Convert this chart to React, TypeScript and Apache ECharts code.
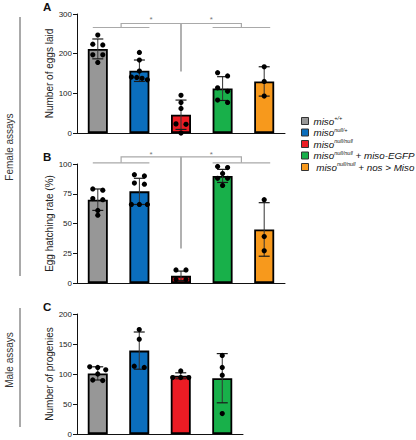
import React, { useEffect, useRef } from 'react';
import * as echarts from 'echarts';

// Genotypes: "miso" + superscript allele + optional transgene suffix
const genotypeSup = ['+/+', 'null/+', 'null/null', 'null/null', 'null/null'];
const genotypeSuffix = ['', '', '', ' + miso-EGFP', ' + nos > Miso'];
const genotypes = genotypeSup.map((s, i) => 'miso' + s + genotypeSuffix[i]);

// A: number of eggs laid (female assays)
const eggMeans = [212, 157, 46, 112, 130];
const eggSD = [25, 27, 37, 30, 37];
const eggDots = [
  [247, 224, 222, 197, 197, 178],
  [203, 184, 156, 141, 140, 138, 134],
  [95, 77, 62, 23, 22, 0],
  [152, 144, 114, 105, 83, 77],
  [167, 130, 93],
];

// B: egg hatching rate, % (female assays)
const hatchMeans = [70, 77, 6, 90, 45];
const hatchSD = [9, 11, 4, 5.5, 22.5];
const hatchDots = [
  [79, 78, 71, 70, 61, 57],
  [91, 90, 84, 83, 66, 66, 66],
  [11, 11, 3, 3],
  [98, 97, 92, 88, 88, 82],
  [70, 39, 27],
];

// C: number of progenies (male assays)
const progenyMeans = [101, 139, 97, 93];
const progenySD = [11, 31, 5, 41];
const progenyDots = [
  [112, 111, 107, 100, 90, 89],
  [174, 158, 113, 111],
  [105, 94, 94, 94],
  [131, 111, 98, 34],
];

const PALETTE = ['#979797', '#0b6ebd', '#ec1c24', '#18b04a', '#f7991c'];
const FONT = "'Liberation Sans', Arial, Helvetica, sans-serif";
const BRACKET = '#a9a9a9';

// Spread overlapping dots sideways (beeswarm-like rows)
function swarmOffsets(values: number[], pxPerUnit: number): number[] {
  const order = values.map((_, i) => i).sort((a, b) => values[b] - values[a]);
  const offsets = new Array(values.length).fill(0);
  let group: number[] = [];
  const flush = () => {
    const n = group.length;
    const step = n > 1 ? Math.min(10, 16 / (n - 1)) : 0;
    group.forEach((g, k) => (offsets[g] = (k - (n - 1) / 2) * step));
    group = [];
  };
  order.forEach((i) => {
    if (group.length && (values[group[group.length - 1]] - values[i]) * pxPerUnit >= 4) flush();
    group.push(i);
  });
  flush();
  return offsets;
}

type Panel = {
  title: string;
  yName: string;
  top: number;
  height: number;
  width: number;
  max: number;
  interval: number;
  means: number[];
  sd: number[];
  dots: number[][];
  bracket?: { low: number; high: number; drop: number; star: number };
};

const panels: Panel[] = [
  {
    title: 'A', yName: 'Number of eggs laid', top: 14, height: 119, width: 208,
    max: 300, interval: 100, means: eggMeans, sd: eggSD, dots: eggDots,
    bracket: { low: 266, high: 276, drop: 155, star: 285 },
  },
  {
    title: 'B', yName: 'Egg hatching rate (%)', top: 164, height: 119, width: 208,
    max: 100, interval: 25, means: hatchMeans, sd: hatchSD, dots: hatchDots,
    bracket: { low: 101, high: 106, drop: 29, star: 108 },
  },
  {
    title: 'C', yName: 'Number of progenies', top: 314, height: 120, width: 166,
    max: 200, interval: 50, means: progenyMeans, sd: progenySD, dots: progenyDots,
  },
];

function buildOption() {
  const grid: any[] = [];
  const xAxis: any[] = [];
  const yAxis: any[] = [];
  const series: any[] = [];
  const graphic: any[] = [];

  panels.forEach((p, pi) => {
    const n = p.means.length;
    grid.push({ left: 77, top: p.top, width: p.width, height: p.height, containLabel: false });
    xAxis.push({
      type: 'category', gridIndex: pi, data: genotypes.slice(0, n),
      axisLine: { lineStyle: { color: '#111', width: 1 } },
      axisTick: { show: false }, axisLabel: { show: false }, splitLine: { show: false },
    });
    yAxis.push({
      type: 'value', gridIndex: pi, min: 0, max: p.max, interval: p.interval,
      name: p.yName, nameLocation: 'middle', nameGap: 22, nameRotate: 90,
      nameTextStyle: { fontSize: 10, color: '#222', fontFamily: FONT },
      axisLine: { show: true, lineStyle: { color: '#111', width: 1 } },
      axisTick: { show: true, length: 4, lineStyle: { color: '#111' } },
      axisLabel: { fontSize: 8, color: '#222', margin: 5, fontFamily: FONT },
      splitLine: { show: false },
    });

    // one bar series per genotype so the legend can list them
    for (let i = 0; i < n; i++) {
      series.push({
        type: 'bar', name: genotypes[i], xAxisIndex: pi, yAxisIndex: pi,
        data: p.means.map((v, j) => (j === i ? v : '-')),
        barWidth: 20, barGap: '-100%', z: 2,
        itemStyle: { color: PALETTE[i], borderColor: '#000', borderWidth: 1.8 },
      });
    }

    // mean ± SD error bars
    series.push({
      type: 'custom', xAxisIndex: pi, yAxisIndex: pi, z: 3, clip: false, silent: true,
      data: p.means.map((m, i) => [i, m, p.sd[i]]),
      renderItem: (_params: any, api: any) => {
        const c = api.value(0), m = api.value(1), s = api.value(2);
        const top = api.coord([c, m + s]);
        const bot = api.coord([c, m - s]);
        const x = top[0], hw = 5.5;
        const st = { stroke: '#1a1a1a', lineWidth: 1.2 };
        return {
          type: 'group',
          children: [
            { type: 'line', shape: { x1: x, y1: top[1], x2: x, y2: bot[1] }, style: { stroke: '#333', lineWidth: 1 } },
            { type: 'line', shape: { x1: x - hw, y1: top[1], x2: x + hw, y2: top[1] }, style: st },
            { type: 'line', shape: { x1: x - hw, y1: bot[1], x2: x + hw, y2: bot[1] }, style: st },
          ],
        };
      },
    });

    // individual replicates
    const pxPerUnit = p.height / p.max;
    const dotData: number[][] = [];
    p.dots.forEach((vals, i) => {
      const offs = swarmOffsets(vals, pxPerUnit);
      vals.forEach((v, k) => dotData.push([i, v, offs[k]]));
    });
    series.push({
      type: 'custom', xAxisIndex: pi, yAxisIndex: pi, z: 4, clip: false, silent: true,
      data: dotData,
      renderItem: (_params: any, api: any) => {
        const pt = api.coord([api.value(0), api.value(1)]);
        return { type: 'circle', shape: { cx: pt[0] + api.value(2), cy: pt[1], r: 2.6 }, style: { fill: '#000' } };
      },
    });

    // significance brackets: (first two groups) vs null/null vs (rescue groups)
    if (p.bracket) {
      const b = p.bracket;
      series.push({
        type: 'custom', xAxisIndex: pi, yAxisIndex: pi, z: 5, clip: false, silent: true,
        data: [[2, b.low]],
        renderItem: (_params: any, api: any) => {
          const cx = (i: number) => api.coord([i, 0])[0];
          const cy = (v: number) => api.coord([0, v])[1];
          const yLow = cy(b.low), yHigh = cy(b.high), yDrop = cy(b.drop), yStar = cy(b.star);
          const l0 = cx(0) - 5, l1 = cx(1) + 10;
          const r0 = cx(3) - 10, r1 = cx(4) + 6;
          const lm = (l0 + l1) / 2, rm = (r0 + r1) / 2, mid = cx(2);
          const st = { stroke: BRACKET, lineWidth: 1.2, fill: null };
          const star = (x: number) => ({
            type: 'text',
            style: {
              text: '*', x, y: yStar, align: 'center', verticalAlign: 'middle',
              textAlign: 'center', textVerticalAlign: 'middle',
              fontSize: 8, fontFamily: FONT, fill: '#777',
            },
          });
          return {
            type: 'group',
            children: [
              { type: 'line', shape: { x1: l0, y1: yLow, x2: l1, y2: yLow }, style: st },
              { type: 'polyline', shape: { points: [[lm, yLow], [lm, yHigh], [mid, yHigh]] }, style: st },
              { type: 'polyline', shape: { points: [[mid, yHigh], [rm, yHigh], [rm, yLow]] }, style: st },
              { type: 'line', shape: { x1: mid, y1: yHigh, x2: mid, y2: yDrop }, style: { stroke: BRACKET, lineWidth: 1.8 } },
              { type: 'line', shape: { x1: r0, y1: yLow, x2: r1, y2: yLow }, style: st },
              star((lm + mid) / 2),
              star((mid + rm) / 2),
            ],
          };
        },
      });
    }

    // panel letter
    graphic.push({
      type: 'text', left: 43, top: p.top - 13,
      style: { text: p.title, fontSize: 11.5, fontWeight: 'bold', fontFamily: FONT, fill: '#111' },
    });
  });

  // side group labels with their rules
  const sideLabel = (text: string, y: number) => ({
    type: 'text', x: 9, y, rotation: Math.PI / 2,
    style: {
      text, fontSize: 10, fontFamily: FONT, fill: '#333',
      align: 'center', verticalAlign: 'middle', textAlign: 'center', textVerticalAlign: 'middle',
    },
  });
  graphic.push(sideLabel('Female assays', 147));
  graphic.push(sideLabel('Male assays', 360));
  graphic.push({ type: 'line', shape: { x1: 20, y1: 17, x2: 20, y2: 276 }, style: { stroke: '#555', lineWidth: 1 } });
  graphic.push({ type: 'line', shape: { x1: 20, y1: 308, x2: 20, y2: 427 }, style: { stroke: '#555', lineWidth: 1 } });

  return {
    animation: false,
    backgroundColor: '#ffffff',
    textStyle: { fontFamily: FONT },
    grid, xAxis, yAxis, series, graphic,
    legend: {
      data: genotypes,
      orient: 'vertical', left: 301, top: 115, padding: 0,
      itemWidth: 7, itemHeight: 7, itemGap: 0.5,
      icon: 'rect', selectedMode: false,
      itemStyle: { borderColor: '#333', borderWidth: 1 },
      formatter: (name: string) => {
        const i = genotypes.indexOf(name);
        const lead = i === 4 ? ' ' : '';
        const tail = genotypeSuffix[i] ? `{m|${genotypeSuffix[i]}}` : '';
        return `{m|${lead}miso}{s|${genotypeSup[i]}}${tail}`;
      },
      textStyle: {
        color: '#111', fontFamily: FONT,
        rich: {
          m: { fontSize: 9.8, fontStyle: 'italic', fontFamily: FONT, color: '#111', lineHeight: 12, verticalAlign: 'middle' },
          s: { fontSize: 5.5, fontStyle: 'italic', fontFamily: FONT, color: '#111', lineHeight: 7, verticalAlign: 'top' },
        },
      },
    },
  };
}

export default function App() {
  const ref = useRef<HTMLDivElement>(null);
  useEffect(() => {
    document.body.style.margin = '0';
    if (!ref.current) return;
    const chart = echarts.init(ref.current, undefined, { renderer: 'svg' });
    chart.setOption(buildOption() as any);
    return () => chart.dispose();
  }, []);
  return <div ref={ref} style={{ width: 416, height: 440 }} />;
}
